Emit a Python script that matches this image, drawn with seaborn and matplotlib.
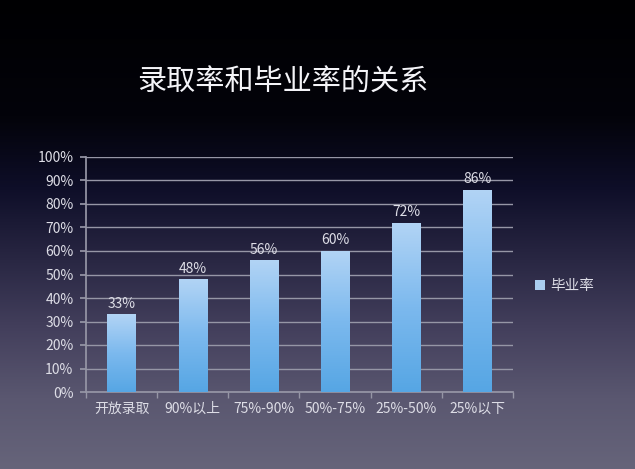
import matplotlib
matplotlib.use('Agg')
import matplotlib.pyplot as plt
import numpy as np
import pandas as pd
import seaborn as sns
from matplotlib.colors import LinearSegmentedColormap
from matplotlib.ticker import FuncFormatter

categories = ['开放录取', '90%以上', '75%-90%', '50%-75%', '25%-50%', '25%以下']
grad_rate = [33, 48, 56, 60, 72, 86]
series_name = '毕业率'
title = '录取率和毕业率的关系'

sns.set_theme(style='white')
plt.rcParams['font.family'] = ['Noto Sans CJK SC', 'DejaVu Sans']

txt_color = '#dddde6'
grid_color = '#9696a6'

fig = plt.figure(figsize=(6.35, 4.69), dpi=100)

# background gradient, black top to grey-purple bottom
bg = fig.add_axes([0, 0, 1, 1], zorder=-10)
bg_cmap = LinearSegmentedColormap.from_list('bg', [
    (0.0, '#000002'), (0.25, '#03030a'), (0.4, '#0e0e28'),
    (0.55, '#282642'), (0.7, '#433f5c'), (0.85, '#5a5770'), (1.0, '#66647a'),
])
grad = np.linspace(0, 1, 256).reshape(-1, 1)
bg.imshow(grad, aspect='auto', cmap=bg_cmap, extent=[0, 1, 0, 1])
bg.axis('off')

ax = fig.add_axes([86 / 635, 1 - 392 / 469, (513 - 86) / 635, (392 - 157) / 469])
ax.patch.set_alpha(0)

df = pd.DataFrame({'category': categories, 'value': grad_rate})
sns.barplot(data=df, x='category', y='value', ax=ax, color='#7fb8ec',
            width=0.4, label=series_name, zorder=3, linewidth=0)

ax.set_ylim(0, 100)
ax.set_xlim(-0.5, len(categories) - 0.5)

# gradient fill inside each bar
bar_cmap = LinearSegmentedColormap.from_list('bar', ['#56a6e4', '#7cb9ee', '#b2d4f5'])
for bar in ax.patches:
    x0, y0 = bar.get_x(), bar.get_y()
    w, h = bar.get_width(), bar.get_height()
    im = ax.imshow(grad, aspect='auto', cmap=bar_cmap, origin='lower',
                   extent=[x0, x0 + w, y0, y0 + h], zorder=4)
    im.set_clip_path(bar)
    ax.text(x0 + w / 2, y0 + h + 1.5, f'{int(h)}%', ha='center', va='bottom',
            color=txt_color, fontsize=10, zorder=5)

ax.set_yticks(range(0, 101, 10))
ax.yaxis.set_major_formatter(FuncFormatter(lambda v, p: f'{int(v)}%'))
ax.grid(axis='y', color=grid_color, linewidth=1, zorder=0)
ax.set_axisbelow(True)
for s in ['top', 'right']:
    ax.spines[s].set_visible(False)
ax.spines['left'].set_color(grid_color)
ax.spines['bottom'].set_color(grid_color)
ax.tick_params(axis='y', colors=grid_color, labelcolor=txt_color, labelsize=10,
               length=4, left=True, direction='out', pad=5)
ax.tick_params(axis='x', colors=grid_color, labelcolor=txt_color, labelsize=10,
               length=0, pad=7)
ax.set_xticks(np.arange(-0.5, len(categories) - 0.5 + 1), minor=True)
ax.tick_params(axis='x', which='minor', length=4, colors=grid_color, bottom=True)
ax.set_xlabel('')
ax.set_ylabel('')

leg = ax.legend(loc='center left', bbox_to_anchor=(1.02, 0.45), frameon=False,
                fontsize=10.5, handlelength=0.7, handleheight=0.7, handletextpad=0.4)
for t in leg.get_texts():
    t.set_color(txt_color)
for h in leg.legend_handles:
    h.set_facecolor('#a9cdef')

fig.text(283 / 635, 1 - 83 / 469, title, ha='center', va='center',
         color='#f4f4f8', fontsize=21)

fig.savefig('out.png', dpi=100)
